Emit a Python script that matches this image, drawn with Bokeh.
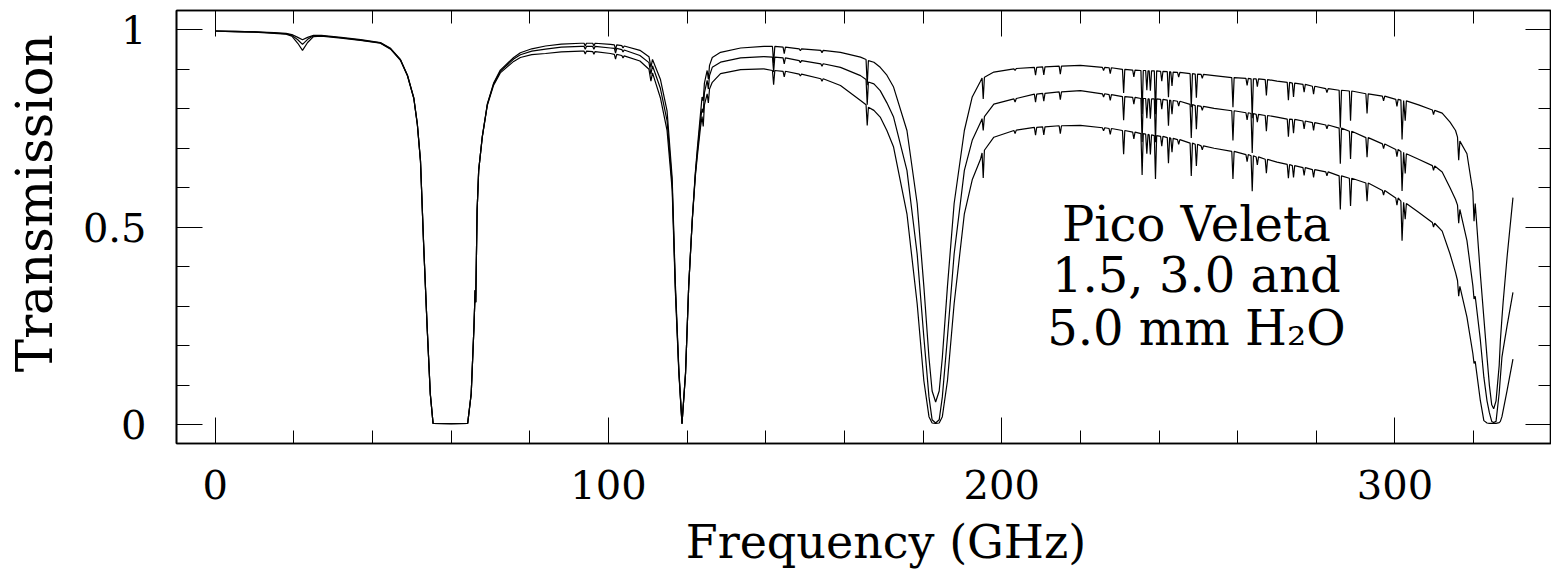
from bokeh.plotting import figure
from bokeh.models import (Range1d, LinearAxis, SingleIntervalTicker, NumeralTickFormatter,
                          CustomJSTickFormatter, Label)
from bokeh.embed import file_html
from bokeh.resources import INLINE

# ---------------- data ----------------
freq = [
    # 0 - 55 GHz (22 GHz water line, O2 wing)
    0, 5, 10, 15, 18, 19.5, 21, 22.2, 23.5, 25, 27, 32, 37, 42, 44.6, 47.1, 48.9, 50.5, 51.4, 52.2, 53.0, 53.9, 54.7, 55.4,
    # O2 band
    60, 64.2, 65.1, 65.8, 66.1, 66.25, 66.6, 67.0, 67.9, 69.2, 70.8, 72.5, 75.9, 77.6, 80.5, 84,
    # 84 - 128.5 GHz (118.75 GHz O2 line)
    88, 93, 93.8, 94.1, 94.4, 96.0, 96.3, 96.6, 100.5, 101.5, 101.8, 102.1, 103.4, 103.7, 104.0, 108, 110.3, 110.8, 111.2,
    113.2, 114.9, 116.2, 117.0, 117.9, 118.7, 119.6, 120.4, 121.3, 122.1, 122.6, 123.4, 123.8, 124.1, 124.4, 125.1, 125.4,
    125.7, 126.4, 128.5,
    # 128.5 - 172.5 GHz
    133.6, 139.5, 141.7, 142.0, 142.3, 144.4, 144.7, 145.0, 148.5, 148.8, 149.1, 154.0, 154.3, 154.6, 159.0, 164.1, 165.5,
    165.8, 166.1, 167.5, 169.1, 170.8, 172.5,
    # 183 GHz water line
    175.9, 178.5, 180.2, 181.5, 182.3, 183.2, 184.1, 184.9, 186.2, 187.9, 190.5, 192.5, 194.6, 195.0, 195.3, 195.6, 198.0,
    # 200 - 330 GHz (ozone lines, 325 GHz water line)
    203.1, 203.4, 203.7, 208.3, 208.6, 208.9, 210.4, 210.7, 211.0, 214.6, 214.9, 215.2, 220.0,
    225.6, 225.9, 226.2, 227.3, 227.6, 227.9, 230.7, 231.0, 231.3, 233.3, 233.6, 233.9,
    235.4, 235.7, 236.0, 236.6, 236.9, 237.2, 237.5, 237.8, 238.1, 238.8, 239.1, 239.4,
    240.4, 240.7, 241.0, 242.1, 242.4, 242.7, 243.0, 243.3, 243.6, 244.7, 245.0, 245.3,
    247.9, 248.2, 248.5, 249.2, 249.5, 249.8, 250.7, 251.0, 251.3, 254.0,
    258.5, 258.8, 259.1, 262.1, 262.4, 262.7, 263.4, 263.7, 264.0, 264.7, 265.0, 265.3,
    267.0, 267.3, 267.6, 270.0, 272.6, 272.9, 273.2, 273.9, 274.2, 274.5,
    276.6, 276.9, 277.2, 279.0, 279.3, 279.6, 282.4, 282.7, 283.0,
    285.8, 286.1, 286.4, 288.4, 288.7, 289.0, 292.6, 292.9, 293.2,
    296.8, 297.1, 297.4, 300.2, 300.5, 300.8, 301.5, 301.8, 302.2, 302.6, 302.9,
    306.0, 309.5, 309.8, 310.1, 312.0, 314.0, 315.4, 315.9, 316.2, 316.5,
    318.3, 319.8, 320.1, 320.4, 321.7, 322.6, 323.4, 324.0, 324.6,
    325.1, 325.7, 326.5, 326.8, 327.2, 327.5, 328.5, 330.0,
]

t_15mm = [
    .997, .996, .995, .993, .991, .988, .981, .975, .981, .986, .986, .981, .975, .968, .953, .925, .885, .828, .762, .669, .458, .247, .078, .003,
    .002, .003, .078, .247, .340, .310, .542, .644, .728, .812, .865, .898, .930, .942, .952, .959,
    .964, .966, .966, .959, .966, .966, .959, .966, .963, .962, .950, .962, .960, .954, .959, .948, .932, .905, .925,
    .875, .795, .625, .360, .140, .002, .130, .350, .517, .640, .700, .787, .830, .820, .865, .897, .875,
    .910, .930, .943,
    .954, .958, .958, .915, .958, .956, .940, .956, .952, .947, .952, .948, .942, .948, .943, .931, .925,
    .860, .922, .918, .905, .885, .855,
    .745, .560, .350, .170, .085, .057, .085, .170, .350, .560, .745, .830, .870, .878, .825, .880, .893,
    .901, .897, .902, .905, .885, .905, .906, .886, .906, .908, .888, .908, .910,
    .905, .897, .905, .904, .889, .904, .900, .840, .900, .898, .881, .898,
    .897, .787, .897, .897, .847, .896, .896, .846, .896, .896, .786, .896,
    .895, .870, .895, .894, .829, .894, .893, .858, .893, .892, .880, .892,
    .889, .804, .889, .888, .828, .888, .887, .877, .887, .884,
    .879, .804, .879, .877, .859, .877, .876, .776, .876, .876, .856, .876,
    .874, .834, .874, .870, .867, .822, .867, .865, .830, .865,
    .862, .842, .862, .857, .837, .857, .851, .841, .851,
    .847, .752, .847, .845, .770, .845, .838, .788, .838,
    .832, .820, .832, .824, .806, .824, .822, .722, .821, .770, .820,
    .810, .797, .785, .796, .789, .766, .745, .728, .670, .718,
    .686, .590, .515, .560, .382, .270, .171, .100, .050,
    .040, .060, .150, .213, .270, .310, .424, .575,
]

t_30mm = [
    .997, .996, .995, .992, .990, .986, .975, .963, .976, .985, .985, .980, .974, .967, .952, .924, .884, .827, .761, .668, .457, .246, .077, .003,
    .002, .003, .078, .247, .340, .310, .542, .644, .728, .811, .863, .895, .926, .937, .946, .951,
    .956, .958, .958, .951, .958, .958, .951, .958, .954, .953, .941, .953, .950, .944, .949, .935, .917, .888, .909,
    .852, .770, .610, .350, .135, .002, .130, .350, .517, .635, .690, .770, .800, .790, .840, .872, .850,
    .884, .905, .918,
    .929, .932, .931, .893, .931, .929, .914, .929, .922, .917, .922, .914, .908, .914, .905, .884, .874,
    .810, .868, .863, .846, .815, .779,
    .644, .432, .221, .070, .012, .004, .012, .070, .221, .432, .644, .720, .765, .775, .745, .780, .812,
    .825, .817, .826, .837, .817, .837, .839, .819, .839, .843, .823, .843, .846,
    .838, .830, .838, .836, .821, .836, .831, .771, .831, .829, .812, .829,
    .826, .716, .826, .826, .776, .825, .825, .775, .825, .825, .715, .825,
    .824, .799, .824, .822, .757, .822, .821, .786, .821, .819, .807, .819,
    .811, .726, .811, .808, .748, .808, .806, .796, .806, .801,
    .795, .720, .795, .790, .772, .790, .788, .688, .788, .786, .766, .786,
    .783, .743, .783, .779, .774, .729, .774, .773, .738, .773,
    .769, .749, .769, .765, .745, .765, .759, .749, .759,
    .751, .661, .751, .743, .673, .743, .727, .677, .727,
    .711, .699, .711, .697, .679, .697, .692, .592, .690, .636, .686,
    .672, .656, .644, .655, .640, .600, .570, .556, .510, .545,
    .466, .352, .318, .325, .215, .120, .060, .030, .008,
    .005, .008, .080, .120, .171, .190, .250, .335,
]

t_50mm = [
    .997, .995, .994, .991, .989, .984, .966, .948, .968, .983, .984, .979, .973, .966, .951, .923, .883, .826, .760, .667, .456, .245, .076, .003,
    .002, .003, .078, .247, .340, .310, .542, .644, .727, .809, .860, .891, .920, .930, .937, .940,
    .944, .946, .946, .939, .946, .945, .938, .945, .940, .938, .926, .938, .935, .929, .934, .921, .900, .870, .891,
    .828, .745, .595, .340, .130, .002, .130, .350, .515, .630, .680, .753, .780, .755, .810, .838, .815,
    .850, .867, .889,
    .899, .901, .897, .861, .897, .895, .881, .895, .888, .883, .888, .876, .870, .876, .859, .821, .810,
    .758, .804, .796, .779, .745, .703,
    .534, .306, .111, .020, .004, .003, .004, .020, .111, .306, .534, .620, .672, .688, .625, .695, .728,
    .745, .737, .746, .753, .733, .753, .754, .734, .754, .757, .737, .757, .758,
    .752, .744, .752, .750, .735, .750, .745, .685, .745, .741, .724, .741,
    .737, .632, .737, .736, .686, .735, .734, .684, .734, .732, .622, .732,
    .730, .705, .730, .727, .662, .727, .725, .690, .725, .722, .710, .722,
    .713, .630, .713, .710, .655, .710, .706, .696, .706, .700,
    .692, .622, .692, .684, .666, .684, .681, .591, .681, .678, .658, .678,
    .672, .637, .672, .665, .659, .624, .659, .656, .626, .656,
    .651, .631, .651, .646, .626, .646, .640, .630, .640,
    .630, .545, .630, .624, .554, .624, .612, .566, .612,
    .593, .581, .593, .574, .556, .574, .566, .466, .563, .520, .560,
    .538, .512, .500, .510, .490, .432, .385, .365, .325, .350,
    .272, .180, .155, .160, .061, .010, .004, .003, .003,
    .003, .003, .005, .008, .020, .035, .086, .166,
]

assert len(freq) == len(t_15mm) == len(t_30mm) == len(t_50mm), (len(freq), len(t_15mm), len(t_30mm), len(t_50mm))

annotation_lines = ["Pico Veleta", "1.5, 3.0 and", "5.0 mm H\u2082O"]
NBSP = "\u00a0"
x_title = NBSP * 3 + "Frequency (GHz)"
y_title = NBSP * 3 + "Transmission"

FONT = "DejaVu Serif"

# ---------------- figure ----------------
p = figure(width=1551, height=573, output_backend="svg", toolbar_location=None,
           x_range=Range1d(-9.84, 339.8), y_range=Range1d(-0.048, 1.049),
           x_axis_location=None, y_axis_location=None,
           min_border_left=176, min_border_right=0, min_border_top=10, min_border_bottom=130)
p.background_fill_color = "white"
p.border_fill_color = "white"
p.outline_line_color = "black"
p.outline_line_width = 1.6
p.xgrid.grid_line_color = None
p.ygrid.grid_line_color = None


def make_axis(kind, labelled):
    if kind == "x":
        tick = SingleIntervalTicker(interval=100, num_minor_ticks=5)
        fmt = NumeralTickFormatter(format="0")
    else:
        tick = SingleIntervalTicker(interval=0.5, num_minor_ticks=5)
        fmt = NumeralTickFormatter(format="0.[0]")
    ax = LinearAxis(ticker=tick)
    ax.axis_line_color = "black"
    ax.axis_line_width = 1.6
    ax.major_tick_in = 26
    ax.major_tick_out = 0
    ax.minor_tick_in = 13
    ax.minor_tick_out = 0
    ax.major_tick_line_color = "black"
    ax.minor_tick_line_color = "black"
    ax.major_tick_line_width = 1
    ax.minor_tick_line_width = 1
    if labelled:
        ax.formatter = fmt
        ax.major_label_text_font = FONT
        ax.major_label_text_font_size = "40px"
        ax.major_label_text_color = "black"
        ax.major_label_standoff = 26 if kind == "x" else 30
        ax.axis_label_text_font = FONT
        ax.axis_label_text_font_style = "normal"
        ax.axis_label_text_color = "black"
        if kind == "x":
            ax.axis_label = x_title
            ax.axis_label_text_font_size = "46px"
            ax.axis_label_standoff = 13
        else:
            ax.axis_label = y_title
            ax.axis_label_text_font_size = "50px"
            ax.axis_label_standoff = 16
    else:
        ax.formatter = CustomJSTickFormatter(code="return ''")
        ax.major_label_text_font_size = "0px"
        ax.major_label_standoff = 0
    return ax


p.add_layout(make_axis("x", True), "below")
p.add_layout(make_axis("x", False), "above")
p.add_layout(make_axis("y", True), "left")
p.add_layout(make_axis("y", False), "right")

for t in (t_15mm, t_30mm, t_50mm):
    p.line(freq, t, line_color="black", line_width=1.2)

# annotation text block
for txt, yy in zip(annotation_lines, [0.509, 0.378, 0.244]):
    p.add_layout(Label(x=249.5, y=yy, text=txt, text_align="center", text_baseline="alphabetic",
                       text_font=FONT, text_font_size="48px", text_color="black"))

open("out.html", "w").write(file_html(p, INLINE))
